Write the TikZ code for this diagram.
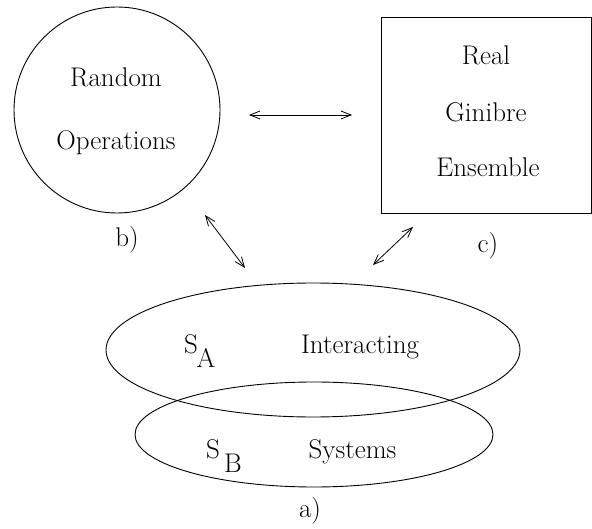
\documentclass[tikz,border=0pt]{standalone}
\usetikzlibrary{arrows.meta,shapes.geometric}
\begin{document}
\begin{tikzpicture}[x=1pt,y=-1pt,
  lbl/.style={anchor=base,inner sep=0pt,font=\rmfamily\fontsize{27}{32}\selectfont},
  shapeline/.style={draw,line width=0.9pt},
  conn/.style={line width=0.8pt,{Straight Barb[length=10pt,width=8pt]}-{Straight Barb[length=10pt,width=8pt]}}]
\useasboundingbox (0,0) rectangle (592,529);
% shapes
\node[shapeline,circle,minimum size=206pt,inner sep=0pt] (ro) at (117,110) {};
\node[shapeline,rectangle,minimum width=210pt,minimum height=196pt,inner sep=0pt] (rg) at (486,115) {};
\node[shapeline,ellipse,minimum width=414pt,minimum height=134pt,inner sep=0pt] (ea) at (313,350) {};
\node[shapeline,ellipse,minimum width=358pt,minimum height=105pt,inner sep=0pt] (eb) at (314,434.5) {};
% texts
\node[lbl] (t1) at (116,87) {Random};
\node[lbl] (t2) at (116,150) {Operations};
\node[lbl] (tb) at (127,247) {b)};
\node[lbl] (t3) at (486,65) {Real};
\node[lbl] (t4) at (486,122) {Ginibre};
\node[lbl] (t5) at (488,177) {Ensemble};
\node[lbl] (tc) at (488,253) {c)};
\node[lbl] (sa) at (191,354) {S};
\node[lbl] (sai) at (206,368) {A};
\node[lbl] (t6) at (360,354) {Interacting};
\node[lbl] (sb) at (213,458) {S};
\node[lbl] (sbi) at (233,472) {B};
\node[lbl] (t7) at (352.5,458) {Systems};
\node[lbl] (ta) at (310,517) {a)};
% connector ends
\coordinate (h1) at (249,115);
\coordinate (h2) at (352,115);
\coordinate (d1) at (205,215);
\coordinate (d2) at (245,268);
\coordinate (e1) at (413,227);
\coordinate (e2) at (373,265);
\draw[conn] (h1) -- (h2);
\draw[conn] (d1) -- (d2);
\draw[conn] (e1) -- (e2);
\end{tikzpicture}
\end{document}
